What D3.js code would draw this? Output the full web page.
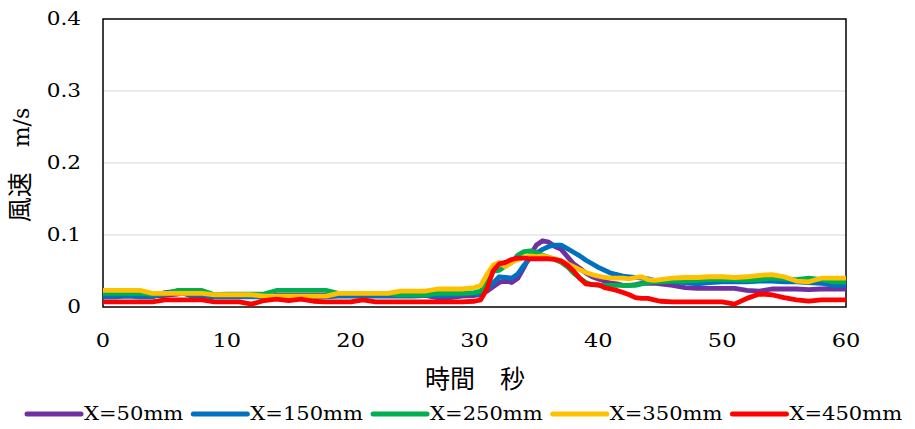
<!DOCTYPE html>
<html>
<head>
<meta charset="utf-8">
<script src="https://cdn.jsdelivr.net/npm/d3@7"></script>
<style>
body { margin: 0; background: #fff; }
</style>
</head>
<body>
<svg width="915" height="429"></svg>
<script>
// time axis (seconds)
var time = [0,1,2,3,4,5,6,7,8,9,10,11,12,13,14,15,16,17,18,19,20,21,22,23,24,25,26,27,28,29,30,
	30.5,31,31.5,32,32.5,33,33.5,34,34.5,35,35.5,36,36.5,37,37.5,38,38.5,39,39.5,40,40.5,41,41.5,42,42.5,43,43.5,44,44.5,45,
	46,47,48,49,50,51,52,53,54,55,56,57,58,59,60];

var x50 = [.016,.018,.022,.017,.016,.016,.018,.022,.017,.016,.016,.016,.016,.016,.016,.016,.016,.016,.016,.016,.016,.016,.016,.016,.016,.016,.016,.013,.013,.015,.016,
	.017,.022,.028,.034,.037,.034,.040,.055,.072,.086,.092,.090,.084,.080,.070,.060,.054,.047,.042,.039,.036,.033,.032,.030,.030,.031,.033,.033,.033,.032,
	.030,.027,.026,.026,.026,.026,.023,.022,.025,.025,.025,.024,.025,.025,.025];

var x150 = [.014,.014,.015,.014,.014,.020,.022,.016,.015,.014,.014,.014,.014,.014,.014,.014,.014,.014,.014,.015,.015,.015,.015,.015,.015,.015,.016,.016,.016,.018,.019,
	.018,.025,.033,.042,.041,.040,.046,.058,.068,.075,.080,.084,.086,.086,.081,.076,.071,.065,.060,.055,.051,.047,.045,.043,.042,.041,.040,.039,.037,.036,
	.035,.034,.032,.034,.035,.035,.035,.036,.036,.035,.035,.034,.033,.030,.030];

var x250 = [.019,.019,.019,.019,.018,.018,.023,.023,.023,.017,.018,.018,.018,.018,.023,.023,.023,.023,.023,.019,.019,.019,.019,.019,.017,.017,.017,.019,.019,.019,.020,
	.022,.035,.050,.051,.057,.062,.072,.077,.078,.075,.072,.069,.066,.062,.056,.047,.040,.034,.031,.030,.030,.030,.030,.030,.030,.030,.032,.034,.035,.035,
	.036,.036,.037,.038,.038,.038,.037,.038,.040,.039,.038,.040,.038,.035,.035];

var x350 = [.023,.023,.023,.023,.019,.019,.019,.019,.019,.017,.017,.017,.017,.015,.015,.015,.015,.015,.015,.019,.019,.019,.019,.019,.022,.022,.022,.025,.025,.025,.027,
	.030,.045,.058,.062,.056,.062,.066,.069,.071,.070,.071,.069,.067,.064,.060,.056,.052,.048,.045,.043,.041,.040,.040,.040,.039,.041,.042,.038,.037,.038,
	.040,.041,.041,.042,.042,.041,.042,.044,.045,.042,.036,.035,.040,.040,.040];

var x450 = [.007,.007,.007,.007,.007,.010,.010,.010,.010,.007,.007,.007,.004,.009,.011,.009,.011,.008,.007,.007,.007,.010,.007,.007,.007,.007,.007,.007,.007,.007,.008,
	.010,.025,.050,.060,.062,.066,.068,.068,.067,.067,.067,.067,.066,.064,.058,.050,.040,.032,.031,.031,.027,.025,.023,.020,.017,.013,.012,.012,.010,.008,
	.007,.007,.007,.007,.007,.004,.012,.018,.017,.013,.010,.008,.010,.010,.010];

var seriesNames = ["X=50mm", "X=150mm", "X=250mm", "X=350mm", "X=450mm"];
var seriesValues = [x50, x150, x250, x350, x450];
var seriesColors = ["#7030A0", "#0070C0", "#00B050", "#FFC000", "#FF0000"];

var xTicks = [0, 10, 20, 30, 40, 50, 60];
var yTicks = [0, 0.1, 0.2, 0.3, 0.4];

var svg = d3.select("svg"),
	width = +svg.attr("width"),
	height = +svg.attr("height");

var plotLeft = 103, plotRight = 846, plotTop = 19, plotBottom = 307;
var latin = "'DejaVu Serif', serif";
var cjk = "'Noto Sans CJK JP', sans-serif";

var x = d3.scaleLinear().domain([0, 60]).range([plotLeft, plotRight]);
var y = d3.scaleLinear().domain([0, 0.4]).range([plotBottom, plotTop]);

// gridlines
svg.append("g")
	.selectAll("line")
	.data(yTicks.filter(function (d) { return d > 0 && d < 0.4; }))
	.enter().append("line")
	.attr("x1", plotLeft).attr("x2", plotRight)
	.attr("y1", function (d) { return y(d); })
	.attr("y2", function (d) { return y(d); })
	.style("stroke", "#d9d9d9")
	.style("stroke-width", 1);

// frame
svg.append("rect")
	.attr("x", plotLeft).attr("y", plotTop)
	.attr("width", plotRight - plotLeft).attr("height", plotBottom - plotTop)
	.style("fill", "none")
	.style("stroke", "#000")
	.style("stroke-width", 1.5);

// series
var line = d3.line()
	.x(function (d, i) { return x(time[i]); })
	.y(function (d) { return y(d); });

svg.append("g")
	.selectAll("path")
	.data(seriesValues)
	.enter().append("path")
	.attr("d", line)
	.style("fill", "none")
	.style("stroke", function (d, i) { return seriesColors[i]; })
	.style("stroke-width", 4.8)
	.style("stroke-linejoin", "round");

// y tick labels
svg.append("g")
	.selectAll("text")
	.data(yTicks)
	.enter().append("text")
	.attr("transform", function (d) { return "translate(" + (plotLeft - 22) + "," + y(d) + ") scale(1.2,1)"; })
	.attr("text-anchor", "end")
	.attr("dy", "0.36em")
	.style("font-family", latin)
	.style("font-size", "18px")
	.text(function (d) { return String(d); });

// x tick labels
svg.append("g")
	.selectAll("text")
	.data(xTicks)
	.enter().append("text")
	.attr("transform", function (d) { return "translate(" + x(d) + ",347) scale(1.25,1)"; })
	.attr("text-anchor", "middle")
	.style("font-family", latin)
	.style("font-size", "18px")
	.text(function (d) { return d; });

// axis titles
svg.append("text")
	.attr("x", 475).attr("y", 388)
	.attr("text-anchor", "middle")
	.style("font-family", cjk)
	.style("font-size", "25px")
	.text("時間　秒");

var yTitle = svg.append("text")
	.attr("transform", "translate(29,165) rotate(-90)")
	.attr("text-anchor", "middle")
	.style("font-family", cjk)
	.style("font-size", "25px");
yTitle.append("tspan").text("風速　");
yTitle.append("tspan").style("font-family", latin).style("font-size", "22px").text("m/s");

// legend
var lx = 27;
seriesNames.forEach(function (name, i) {
	var g = svg.append("g").attr("transform", "translate(" + lx + ",414)");
	g.append("line")
		.attr("x1", 0).attr("x2", 54)
		.style("stroke", seriesColors[i])
		.style("stroke-width", 5)
		.style("stroke-linecap", "round");
	var t = g.append("text")
		.attr("transform", "translate(57,0) scale(1.17,1)")
		.attr("dy", "0.36em")
		.style("font-family", latin)
		.style("font-size", "18px")
		.text(name);
	lx += 57 + t.node().getComputedTextLength() * 1.17 + 10;
});
</script>
</body>
</html>
